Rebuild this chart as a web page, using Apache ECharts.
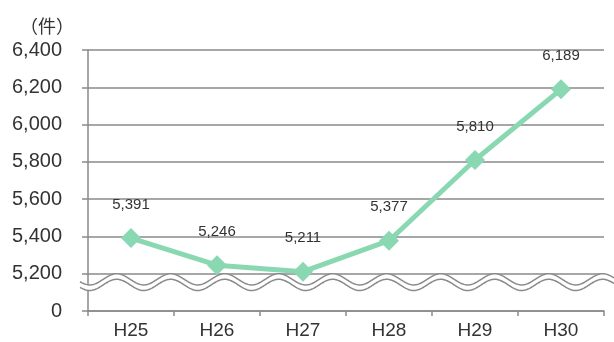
<!DOCTYPE html>
<html>
<head>
<meta charset="utf-8">
<script src="https://cdn.jsdelivr.net/npm/echarts@6/dist/echarts.min.js"></script>
<style>
  html, body { margin: 0; padding: 0; background: #fff; }
  #chart { width: 614px; height: 342px; }
</style>
</head>
<body>
<div id="chart"></div>
<script>
// Fiscal years (Heisei era) and yearly case counts
const years = ['H25', 'H26', 'H27', 'H28', 'H29', 'H30'];
const counts = [5391, 5246, 5211, 5377, 5810, 6189];

// Value axis: the lowest tick stands for 0 (axis is broken below 5,200)
const yMin = 5000;
const yMax = 6400;
const yStep = 200;
const yTickLabels = ['0', '5,200', '5,400', '5,600', '5,800', '6,000', '6,200', '6,400'];

const unitLabel = '（件）';

const FONT = '"Liberation Sans", Arial, "Noto Sans CJK JP", sans-serif';
const GRAY = '#8a8a8a';
const GREEN = '#8ad8b2';

const chart = echarts.init(document.getElementById('chart'), null, { renderer: 'canvas' });

chart.setOption({
  animation: false,
  backgroundColor: '#ffffff',
  title: {
    text: unitLabel,
    left: 15,
    top: 12,
    textStyle: { fontFamily: '"Noto Sans CJK JP", sans-serif', fontSize: 18, fontWeight: 'normal', color: '#333' }
  },
  grid: { left: 88, right: 10, top: 50, bottom: 31 },
  xAxis: {
    type: 'category',
    data: years,
    boundaryGap: true,
    axisLine: { show: true, lineStyle: { color: GRAY, width: 1.5 } },
    axisTick: { show: true, length: 5, lineStyle: { color: GRAY, width: 1.5 } },
    axisLabel: { margin: 10, fontFamily: FONT, fontSize: 19, color: '#333' }
  },
  yAxis: {
    type: 'value',
    min: yMin,
    max: yMax,
    interval: yStep,
    axisLine: { show: true, lineStyle: { color: GRAY, width: 1.5 } },
    axisTick: { show: true, length: 6, lineStyle: { color: GRAY, width: 1.5 } },
    splitLine: { show: true, lineStyle: { color: GRAY, width: 1.5 } },
    axisLabel: {
      margin: 26,
      fontFamily: FONT,
      fontSize: 20,
      color: '#333',
      formatter: function (v) {
        return yTickLabels[Math.round((v - yMin) / yStep)];
      }
    }
  },
  series: [{
    type: 'line',
    data: counts,
    z: 5,
    symbol: 'diamond',
    symbolSize: 20,
    lineStyle: { color: GREEN, width: 5 },
    itemStyle: { color: GREEN },
    label: {
      show: true,
      position: 'top',
      distance: 16,
      fontFamily: FONT,
      fontSize: 15,
      color: '#333',
      formatter: function (p) { return p.value.toLocaleString('en-US'); }
    }
  }]
});

// Wavy break marks between 0 and 5,200, positioned from the axis scales
function drawBreak() {
  const y5200 = chart.convertToPixel({ yAxisIndex: 0 }, 5200);
  const y0 = chart.convertToPixel({ yAxisIndex: 0 }, yMin);
  const unit = y0 - y5200;
  const c0 = chart.convertToPixel({ xAxisIndex: 0 }, years[0]);
  const c1 = chart.convertToPixel({ xAxisIndex: 0 }, years[1]);
  const axisX = c0 - (c1 - c0) / 2;
  const x0 = axisX - 8;
  const x1 = chart.getWidth();
  const amp = 0.15 * unit;
  const topC = y5200 + 0.15 * unit;
  const lowC = y5200 + 0.30 * unit;
  const period = 54;
  const phase = axisX + 28.7;
  const upper = [], lower = [];
  for (let x = x0; x <= x1; x += 1) {
    const w = Math.cos(2 * Math.PI * (x - phase) / period);
    upper.push([x, topC - amp * w]);
    lower.push([x, lowC - amp * w]);
  }
  const band = upper.concat(lower.slice().reverse());
  chart.setOption({
    graphic: [
      { type: 'polygon', z: 1, shape: { points: band }, style: { fill: '#ffffff', stroke: null } },
      { type: 'polyline', z: 1, shape: { points: upper }, style: { stroke: GRAY, lineWidth: 1.5, fill: null } },
      { type: 'polyline', z: 1, shape: { points: lower }, style: { stroke: GRAY, lineWidth: 1.5, fill: null } }
    ]
  });
}
drawBreak();
</script>
</body>
</html>
